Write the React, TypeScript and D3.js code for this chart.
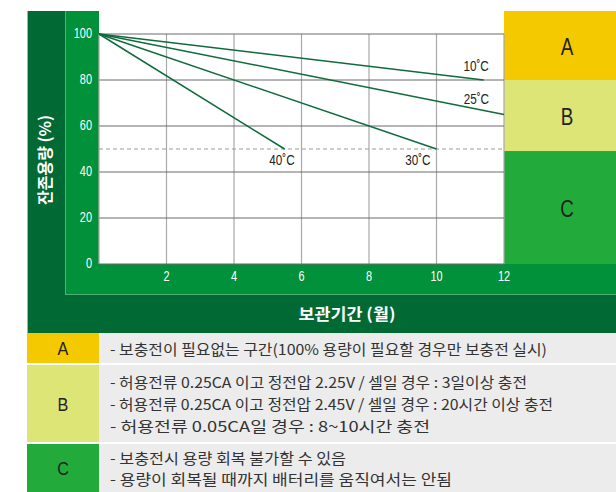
import React from "react";
import * as d3 from "d3";

// ---- data ----
const xTicks = [2, 4, 6, 8, 10, 12];
const yTicks = [0, 20, 40, 60, 80, 100];
const temps = ["10˚C", "25˚C", "30˚C", "40˚C"];
const startMonth = 0;
const startCapacity = 100;
const endMonths = [11.4, 12, 10, 5.5];
const endCapacity = [80, 65, 50, 50];
const thresholdCapacity = 50;
const zoneNames = ["A", "B", "C"];
const zoneTop = [100, 80, 49];
const zoneBottom = [80, 49, 0];
const zoneColors = ["#F5C900", "#DDE577", "#22AB3A"];
const yTitle = "잔존용량 (%)";
const xTitle = "보관기간 (월)";
const tableRows = [
  ["- 보충전이 필요없는 구간(100% 용량이 필요할 경우만 보충전 실시)"],
  [
    "- 허용전류 0.25CA 이고 정전압 2.25V / 셀일 경우 : 3일이상 충전",
    "- 허용전류 0.25CA 이고 정전압 2.45V / 셀일 경우 : 20시간 이상 충전",
    "- 허용전류 0.05CA일 경우 : 8~10시간 충전",
  ],
  ["- 보충전시 용량 회복 불가할 수 있음", "- 용량이 회복될 때까지 배터리를 움직여서는 안됨"],
];

// ---- styles / layout ----
const W = 616;
const H = 492;
const plot = { left: 99, right: 504, top: 34, bottom: 264 };
const DARK = "#006934";
const MID = "#00913A";
const LINE = "#0E6B3B";
const SANS = "'Liberation Sans', Arial, sans-serif";
const KR = "'Noto Sans CJK KR', 'Noto Sans', sans-serif";
const SQUEEZE = 0.78;
// label offsets relative to line end (px)
const labelOffsets = [
  [5, -14],
  [-15, -16],
  [-6, 11],
  [10, 11],
];
const tableLineWidths = [[437], [417, 443, 320], [236, 342]];
const rowBounds = [
  [333, 363],
  [365, 442],
  [444, 492],
];

function Narrow(props: {
  x: number;
  y: number;
  size: number;
  anchor?: string;
  fill: string;
  sx?: number;
  children: React.ReactNode;
}) {
  const { x, y, size, anchor = "middle", fill, sx = SQUEEZE, children } = props;
  return (
    <g transform={`translate(${x},${y}) scale(${sx},1)`}>
      <text
        x={0}
        y={0}
        textAnchor={anchor}
        dominantBaseline="central"
        fontFamily={SANS}
        fontSize={size}
        fill={fill}
      >
        {children}
      </text>
    </g>
  );
}

export default function App() {
  const x = d3.scaleLinear().domain([0, 12]).range([plot.left, plot.right]);
  const y = d3.scaleLinear().domain([0, 100]).range([plot.bottom, plot.top]);
  const line = d3
    .line<[number, number]>()
    .x((d) => x(d[0]))
    .y((d) => y(d[1]));

  return (
    <svg
      width={W}
      height={H}
      style={{ position: "absolute", left: 0, top: 0, background: "#fff" }}
    >
      {/* frame backgrounds */}
      <rect x={27} y={11} width={W - 27} height={333 - 11} fill={DARK} />
      <line x1={27.5} y1={11} x2={27.5} y2={333} stroke="#9bb8a6" strokeWidth={1} />
      <rect x={65} y={11} width={W - 65} height={295 - 11} fill={MID} />
      <line x1={65.5} y1={11} x2={65.5} y2={295} stroke="#4fae70" strokeWidth={1} />
      <line x1={65} y1={294.5} x2={W} y2={294.5} stroke="#4fae70" strokeWidth={1} />
      <rect x={plot.left} y={11} width={plot.right - plot.left} height={plot.bottom - 11} fill="#fff" />

      {/* zones at right */}
      {zoneNames.map((z, i) => {
        const top = i === 0 ? 11 : y(zoneTop[i]);
        const bottom = y(zoneBottom[i]);
        return (
          <g key={z}>
            <rect x={plot.right} y={top} width={W - plot.right} height={bottom - top} fill={zoneColors[i]} />
            <Narrow x={567} y={(top + bottom) / 2 + 1} size={23} fill="#222" sx={0.82}>
              {z}
            </Narrow>
          </g>
        );
      })}

      {/* grid */}
      {xTicks.map((t) => (
        <line
          key={"gx" + t}
          x1={x(t)}
          x2={x(t)}
          y1={plot.top}
          y2={plot.bottom}
          stroke="#a8a8a8"
          strokeWidth={1.2}
        />
      ))}
      {yTicks
        .filter((t) => t > 0)
        .map((t) => (
          <line
            key={"gy" + t}
            x1={plot.left}
            x2={plot.right}
            y1={y(t)}
            y2={y(t)}
            stroke="#6a6a6a"
            strokeWidth={1}
          />
        ))}
      <line x1={plot.left} x2={plot.left} y1={plot.top} y2={plot.bottom} stroke="#a8a8a8" strokeWidth={1.2} />
      <line x1={plot.left} x2={plot.right} y1={plot.bottom} y2={plot.bottom} stroke="#6a6a6a" strokeWidth={1.2} />
      <line
        x1={plot.left}
        x2={plot.right}
        y1={y(thresholdCapacity)}
        y2={y(thresholdCapacity)}
        stroke="#9a9a9a"
        strokeWidth={1}
        strokeDasharray="4,3"
      />

      {/* series */}
      {temps.map((t, i) => (
        <path
          key={t}
          d={
            line([
              [startMonth, startCapacity],
              [endMonths[i], endCapacity[i]],
            ]) || ""
          }
          fill="none"
          stroke={LINE}
          strokeWidth={1.5}
        />
      ))}
      {temps.map((t, i) => (
        <Narrow
          key={"l" + t}
          x={x(endMonths[i]) + labelOffsets[i][0]}
          y={y(endCapacity[i]) + labelOffsets[i][1]}
          size={15}
          anchor="end"
          fill="#222"
        >
          {t}
        </Narrow>
      ))}

      {/* y tick labels */}
      {yTicks.map((t) => (
        <Narrow key={"yt" + t} x={92} y={y(t)} size={14} anchor="end" fill="#fff">
          {t}
        </Narrow>
      ))}
      {/* x tick labels */}
      {xTicks.map((t) => (
        <Narrow key={"xt" + t} x={x(t)} y={277} size={14} fill="#fff">
          {t}
        </Narrow>
      ))}

      {/* axis titles */}
      <text
        transform="translate(44,160) rotate(-90)"
        textAnchor="middle"
        dominantBaseline="central"
        fontFamily={KR}
        fontWeight={700}
        fontSize={16}
        fill="#fff"
        textLength={90}
        lengthAdjust="spacingAndGlyphs"
      >
        {yTitle}
      </text>
      <text
        x={347}
        y={313}
        textAnchor="middle"
        dominantBaseline="central"
        fontFamily={KR}
        fontWeight={700}
        fontSize={16}
        fill="#fff"
        textLength={97}
        lengthAdjust="spacingAndGlyphs"
      >
        {xTitle}
      </text>

      {/* table */}
      {tableRows.map((lines, i) => {
        const [top, bottom] = rowBounds[i];
        const h = bottom - top;
        const lh = 21.7;
        const first = (top + bottom) / 2 - ((lines.length - 1) * lh) / 2;
        return (
          <g key={"row" + i}>
            <rect x={27} y={top} width={99 - 27} height={h} fill={zoneColors[i]} />
            <rect x={99} y={top} width={W - 99} height={h} fill="#ECECEC" />
            <Narrow x={63} y={(top + bottom) / 2 + 1} size={19} fill="#222" sx={0.85}>
              {zoneNames[i]}
            </Narrow>
            {lines.map((s, j) => (
              <text
                key={j}
                x={110}
                y={first + j * lh}
                dominantBaseline="central"
                fontFamily={KR}
                fontSize={14.8}
                fill="#333"
                textLength={tableLineWidths[i][j]}
                lengthAdjust="spacingAndGlyphs"
              >
                {s}
              </text>
            ))}
          </g>
        );
      })}
    </svg>
  );
}
